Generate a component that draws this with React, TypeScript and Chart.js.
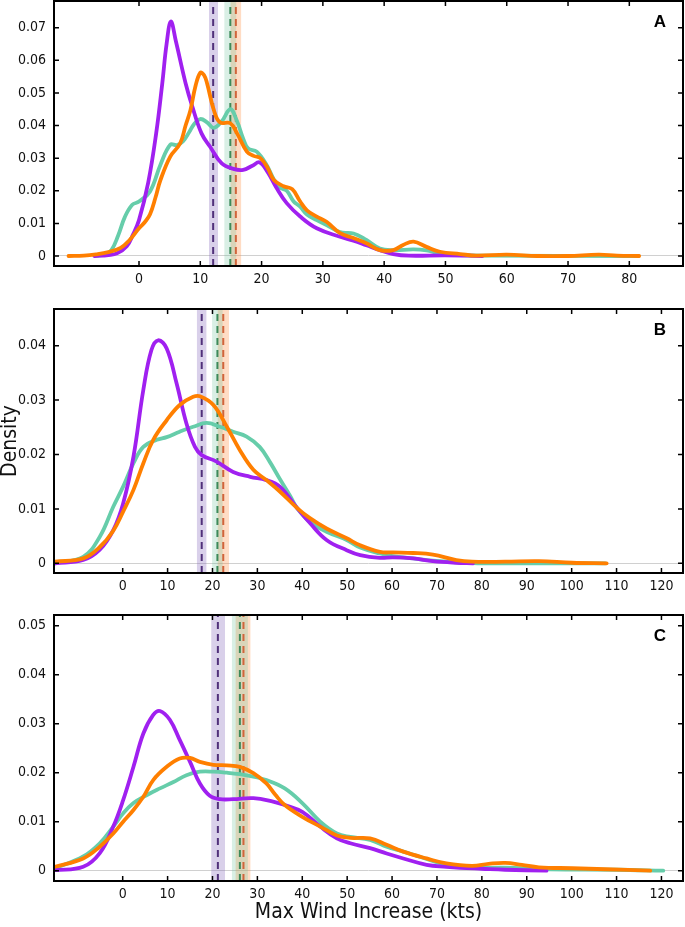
import React, { useEffect, useRef } from 'react';
import { Chart, registerables } from 'chart.js';

Chart.register(...registerables);

const TICK_FONT = '"Liberation Sans Narrow", "DejaVu Sans Condensed", "Arial Narrow", sans-serif';

// ---------- colours ----------
const PURPLE = '#A020F0';
const GREEN = '#66CDAA';
const ORANGE = '#FF7F00';

// ---------- Panel A ----------
const A_xTicks = [0, 10, 20, 30, 40, 50, 60, 70, 80];
const A_yTicks = [0, 0.01, 0.02, 0.03, 0.04, 0.05, 0.06, 0.07];
const A_purple: [number, number][] = [
  [-7.3, 0], [-5, 0.0003], [-3.6, 0.0008], [-2, 0.003], [-1, 0.0065], [0, 0.011], [1.5, 0.0225],
  [2.8, 0.0376], [3.8, 0.053], [4.5, 0.065], [5.2, 0.0719], [6.0, 0.066], [7.6, 0.053], [8.7, 0.0458],
  [10.2, 0.0376], [11.6, 0.0335], [13.5, 0.0284], [15.4, 0.0267], [17.0, 0.0264], [18.5, 0.0277],
  [19.7, 0.0287], [21.0, 0.0257], [22.4, 0.021], [24.1, 0.0162], [26.3, 0.0121], [29.0, 0.0085],
  [32.8, 0.0059], [35.0, 0.0047], [37.1, 0.0033], [39.3, 0.0018], [41.5, 0.0006], [44, 0.0001],
  [50, 0.0002], [56, 0],
];
const A_green: [number, number][] = [
  [-7, 0], [-5.5, 0.0005], [-4.5, 0.0018], [-3.4, 0.0063], [-2.3, 0.012], [-1.1, 0.0157], [0, 0.0167],
  [1.8, 0.0198], [3.5, 0.028], [5.1, 0.0341], [6.2, 0.034], [7.2, 0.0352], [8.2, 0.038], [9, 0.0405],
  [10.0, 0.042], [11.1, 0.041], [12.2, 0.0393], [13.5, 0.0413], [14.9, 0.045], [16, 0.0413],
  [17.0, 0.036], [17.8, 0.033], [19.2, 0.032], [20.8, 0.028], [22.0, 0.0235], [23.0, 0.021],
  [24.1, 0.020], [25.2, 0.0168], [26.3, 0.0151], [27.4, 0.0127], [29.0, 0.011], [30.6, 0.0095],
  [32.8, 0.0073], [35.0, 0.0069], [37.1, 0.0049], [39.3, 0.0023], [41.5, 0.0018], [44.8, 0.002],
  [46.9, 0.0017], [49.1, 0.0008], [52.4, 0.0003], [56, 0.0001], [81.5, 0],
];
const A_orange: [number, number][] = [
  [-11.5, 0], [-9, 0.0001], [-7, 0.0005], [-5, 0.0012], [-3, 0.0025], [-1.5, 0.005], [0, 0.0085],
  [1, 0.0105], [1.8, 0.0128], [2.7, 0.018], [3.5, 0.0233], [5.1, 0.0305], [6.7, 0.0345], [7.6, 0.040],
  [8.4, 0.0448], [9.2, 0.052], [10.0, 0.0562], [10.6, 0.0555], [11.1, 0.053], [12.2, 0.0448],
  [13.2, 0.041], [14.9, 0.0407], [16.0, 0.0376], [17.6, 0.032], [18.7, 0.0307], [19.8, 0.030],
  [21.0, 0.027], [22.0, 0.0233], [23.6, 0.0214], [25.0, 0.0205], [26.3, 0.0167], [27.4, 0.014],
  [29.0, 0.0121], [30.6, 0.0105], [32.8, 0.007], [35.0, 0.0055], [37.1, 0.0039], [39.3, 0.0018],
  [41.5, 0.0018], [43.1, 0.0034], [44.8, 0.0044], [46.9, 0.0028], [49.1, 0.0013], [52.4, 0.0006],
  [55, 0.0001], [60, 0.0004], [65, 0], [70, 0], [75, 0.0004], [78, 0.0001], [81.6, 0],
];
// order: purple, green, orange
const A_means = [12.1, 14.9, 15.8];
const A_lows = [11.4, 13.9, 14.9];
const A_highs = [12.9, 15.9, 16.7];

// ---------- Panel B ----------
const BC_xTicks = [0, 10, 20, 30, 40, 50, 60, 70, 80, 90, 100, 110, 120];
const B_yTicks = [0, 0.01, 0.02, 0.03, 0.04];
const B_purple: [number, number][] = [
  [-15.1, 0], [-8.8, 0.0006], [-5.1, 0.0025], [-2.1, 0.0061], [0.1, 0.011], [2.4, 0.0196],
  [4.6, 0.0319], [6.4, 0.0392], [7.9, 0.041], [9.8, 0.0395], [12.0, 0.0331], [14.2, 0.0257],
  [16.1, 0.0214], [17.6, 0.0199], [20.9, 0.0187], [24.6, 0.0168], [28.4, 0.0159], [32.0, 0.0153],
  [35.0, 0.0141], [38.8, 0.0102], [41.7, 0.0074], [45.4, 0.0043], [49.9, 0.0024], [52.9, 0.0015],
  [57.3, 0.001], [60.2, 0.0011], [64.7, 0.0009], [69.1, 0.0004], [74.3, 0.0001], [78, 0],
];
const B_green: [number, number][] = [
  [-15.1, 0], [-8.8, 0.0012], [-5.1, 0.0049], [-2.1, 0.0104], [0.1, 0.0141], [2.4, 0.0184],
  [4.6, 0.0214], [7.6, 0.0227], [9.8, 0.0232], [12.7, 0.0242], [15.7, 0.0251], [18.7, 0.0258],
  [21.7, 0.0251], [24.6, 0.0242], [27.6, 0.0233], [30.5, 0.0214], [32.8, 0.0186], [35.0, 0.0155],
  [37.3, 0.0124], [38.8, 0.0102], [41.7, 0.0076], [45.4, 0.0058], [49.9, 0.0043], [52.9, 0.0029],
  [57.3, 0.0018], [60.2, 0.0013], [64.7, 0.0009], [69.1, 0.0005], [74.3, 0.0002], [80, 0], [107.5, 0],
];
const B_orange: [number, number][] = [
  [-15.1, 0.0003], [-8.8, 0.0009], [-5.1, 0.003], [-2.1, 0.006], [0.1, 0.0095], [2.4, 0.0135],
  [4.6, 0.0184], [6.8, 0.0227], [9.8, 0.0263], [12.7, 0.0291], [15.7, 0.0306], [17.2, 0.0307],
  [20.2, 0.0291], [23.2, 0.0251], [26.1, 0.0208], [29.1, 0.0172], [32.0, 0.0153], [35.0, 0.0132],
  [38.8, 0.0102], [41.7, 0.0083], [45.4, 0.0064], [49.9, 0.0046], [52.9, 0.0033], [57.3, 0.0021],
  [60.2, 0.002], [64.7, 0.0019], [69.1, 0.0016], [74.3, 0.0006], [77.8, 0.0003], [85.2, 0.0003],
  [92.7, 0.0004], [100.1, 0.0001], [107.8, 0],
];
const B_means = [17.6, 21.1, 22.4];
const B_lows = [16.5, 19.9, 21.1];
const B_highs = [18.7, 22.3, 23.7];

// ---------- Panel C ----------
const C_yTicks = [0, 0.01, 0.02, 0.03, 0.04, 0.05];
const C_purple: [number, number][] = [
  [-15.1, 0.0001], [-8.8, 0.0008], [-5.1, 0.0036], [-2.1, 0.009], [0.1, 0.0144], [2.4, 0.0212],
  [4.6, 0.028], [6.8, 0.0318], [8.3, 0.0326], [10.5, 0.0308], [12.7, 0.0267], [15, 0.0222],
  [17.2, 0.0178], [19.4, 0.0153], [21.7, 0.0146], [24.6, 0.0146], [29.1, 0.0148], [33.5, 0.0141],
  [36.1, 0.0134], [40, 0.012], [44, 0.009], [47.7, 0.0066], [50.7, 0.0056], [55.1, 0.0046],
  [58.8, 0.0035], [62.5, 0.0025], [67.7, 0.0012], [72.1, 0.0008], [75.1, 0.0006], [80, 0.0004],
  [85.2, 0.0002], [94.4, 0],
];
const C_green: [number, number][] = [
  [-15.1, 0.0005], [-8.8, 0.0029], [-5.1, 0.0056], [-2.1, 0.009], [0.1, 0.0117], [2.4, 0.0138],
  [5.3, 0.0154], [8.3, 0.0168], [11.3, 0.0181], [14.2, 0.0195], [17.2, 0.0202], [20.2, 0.0202],
  [23.2, 0.02], [26.1, 0.0197], [29.1, 0.0192], [32.0, 0.0185], [36.1, 0.0168], [40, 0.0138],
  [44, 0.01], [47.7, 0.0076], [50.7, 0.0069], [55.1, 0.0063], [58.8, 0.0049], [62.5, 0.0039],
  [67.7, 0.0024], [72.1, 0.0012], [77.8, 0.0006], [85, 0.0006], [95, 0.0003], [110, 0.0002],
  [120.4, 0],
];
const C_orange: [number, number][] = [
  [-15.1, 0.0008], [-8.8, 0.0025], [-5.1, 0.0049], [-2.1, 0.0076], [0.1, 0.01], [2.4, 0.0124],
  [4.6, 0.0151], [6.8, 0.0185], [9.8, 0.0212], [12.7, 0.0229], [15, 0.023], [17.2, 0.0222],
  [20.2, 0.0216], [23.2, 0.0215], [26.1, 0.0212], [29.1, 0.0199], [32.0, 0.0178], [34, 0.0155],
  [36.1, 0.0134], [40, 0.011], [44, 0.009], [47.7, 0.0072], [50.7, 0.0067], [55.1, 0.0066],
  [58.8, 0.0053], [62.5, 0.0039], [67.7, 0.0025], [72.1, 0.0015], [77.8, 0.001], [81.5, 0.0014],
  [85.2, 0.0016], [88.9, 0.0012], [92.7, 0.0007], [100.1, 0.0005], [107.5, 0.0003], [117.5, 0],
];
const C_means = [21.2, 26.1, 26.9];
const C_lows = [19.7, 24.3, 25.1];
const C_highs = [22.8, 27.9, 28.5];

const BAND_COLORS = ['rgba(128,98,185,0.3)', 'rgba(102,190,150,0.25)', 'rgba(255,140,60,0.3)'];
const MEAN_COLORS = ['#50307a', '#3d8a5a', '#d0643a'];

interface PanelCfg {
  letter: string;
  top: number;
  height: number;
  padTop: number;
  xAxisH: number;
  xMin: number; xMax: number; yMin: number; yMax: number;
  xTicks: number[]; yTicks: number[];
  purple: [number, number][]; green: [number, number][]; orange: [number, number][];
  means: number[]; lows: number[]; highs: number[];
  yTitle?: string; xTitle?: string;
}

const PANELS: PanelCfg[] = [
  {
    letter: 'A', top: 0, height: 290, padTop: 1, xAxisH: 24,
    xMin: -13.87, xMax: 88.76, yMin: -0.00307, yMax: 0.0782,
    xTicks: A_xTicks, yTicks: A_yTicks,
    purple: A_purple, green: A_green, orange: A_orange,
    means: A_means, lows: A_lows, highs: A_highs,
  },
  {
    letter: 'B', top: 290, height: 310, padTop: 19, xAxisH: 27,
    xMin: -15.3, xMax: 124.8, yMin: -0.00178, yMax: 0.04675,
    xTicks: BC_xTicks, yTicks: B_yTicks,
    purple: B_purple, green: B_green, orange: B_orange,
    means: B_means, lows: B_lows, highs: B_highs,
    yTitle: 'Density',
  },
  {
    letter: 'C', top: 600, height: 327, padTop: 15, xAxisH: 46,
    xMin: -15.3, xMax: 124.8, yMin: -0.0021, yMax: 0.05218,
    xTicks: BC_xTicks, yTicks: C_yTicks,
    purple: C_purple, green: C_green, orange: C_orange,
    means: C_means, lows: C_lows, highs: C_highs,
    xTitle: 'Max Wind Increase (kts)',
  },
];

const toPts = (arr: [number, number][]) => arr.map(([x, y]) => ({ x, y }));

const framePlugin = {
  id: 'frame',
  afterDatasetsDraw(chart: any, _args: any, opts: any) {
    const { ctx, chartArea: a, scales } = chart;
    const xs = scales.x;
    const ys = scales.y;
    ctx.save();
    ctx.strokeStyle = '#000';
    ctx.lineWidth = 1.5;
    ctx.beginPath();
    xs.ticks.forEach((t: any) => {
      const p = xs.getPixelForValue(t.value);
      ctx.moveTo(p, a.bottom); ctx.lineTo(p, a.bottom - 5);
      ctx.moveTo(p, a.top); ctx.lineTo(p, a.top + 5);
    });
    ys.ticks.forEach((t: any) => {
      const p = ys.getPixelForValue(t.value);
      ctx.moveTo(a.left, p); ctx.lineTo(a.left + 5, p);
      ctx.moveTo(a.right, p); ctx.lineTo(a.right - 5, p);
    });
    ctx.stroke();
    ctx.lineWidth = 2;
    ctx.strokeRect(a.left, a.top, a.right - a.left, a.bottom - a.top);
    ctx.font = 'bold 17px "Liberation Sans", Arial, sans-serif';
    ctx.textAlign = 'right';
    ctx.textBaseline = 'alphabetic';
    ctx.fillStyle = '#000';
    ctx.fillText(opts.letter, a.right - 17, a.top + 26);
    ctx.restore();
  },
};

function Panel({ cfg }: { cfg: PanelCfg }) {
  const ref = useRef<HTMLCanvasElement | null>(null);
  useEffect(() => {
    if (!ref.current) return;
    const datasets: any[] = [];
    cfg.means.forEach((m, i) => {
      datasets.push({
        data: [{ x: cfg.lows[i], y: cfg.yMax }, { x: cfg.highs[i], y: cfg.yMax }],
        fill: 'start', backgroundColor: BAND_COLORS[i], borderWidth: 0, borderColor: 'rgba(0,0,0,0)',
        pointRadius: 0, order: 10, tension: 0,
      });
      datasets.push({
        data: [{ x: m, y: cfg.yMin }, { x: m, y: cfg.yMax }],
        borderColor: MEAN_COLORS[i], borderWidth: 2, borderDash: [7, 5], pointRadius: 0,
        fill: false, order: 5, tension: 0,
      });
    });
    const curve = (pts: [number, number][], color: string, order: number) => ({
      data: toPts(pts), borderColor: color, borderWidth: 3.8, pointRadius: 0, fill: false,
      tension: 0.4, borderCapStyle: 'round', borderJoinStyle: 'round', order,
    });
    datasets.push(curve(cfg.green, GREEN, 3));
    datasets.push(curve(cfg.purple, PURPLE, 2));
    datasets.push(curve(cfg.orange, ORANGE, 1));

    const chart = new Chart(ref.current, {
      type: 'line',
      data: { datasets },
      plugins: [framePlugin],
      options: {
        animation: false,
        responsive: false,
        maintainAspectRatio: false,
        layout: { padding: { top: cfg.padTop, left: 0, right: 2, bottom: 0 } },
        plugins: {
          legend: { display: false },
          tooltip: { enabled: false },
          frame: { letter: cfg.letter },
        } as any,
        scales: {
          x: {
            type: 'linear', min: cfg.xMin, max: cfg.xMax,
            afterBuildTicks: (s: any) => { s.ticks = cfg.xTicks.map((v) => ({ value: v })); },
            afterFit: (s: any) => { s.height = cfg.xAxisH; s.paddingLeft = 0; s.paddingRight = 0; },
            ticks: {
              autoSkip: false, maxRotation: 0, padding: 5, color: '#111',
              font: { family: TICK_FONT, size: 14 },
              callback: (v: any) => String(v),
            },
            grid: { display: false, drawTicks: false },
            border: { display: false },
            title: cfg.xTitle
              ? { display: true, text: cfg.xTitle, color: '#111', font: { family: TICK_FONT, size: 21, lineHeight: 1 }, padding: { top: 0, bottom: 3.5 } }
              : { display: false },
          },
          y: {
            type: 'linear', min: cfg.yMin, max: cfg.yMax,
            afterBuildTicks: (s: any) => { s.ticks = cfg.yTicks.map((v) => ({ value: v })); },
            afterFit: (s: any) => { s.width = 54; s.paddingTop = 0; s.paddingBottom = 0; },
            ticks: {
              padding: 8, color: '#111',
              font: { family: TICK_FONT, size: 14 },
              callback: (v: any) => (v === 0 ? '0' : Number(v).toFixed(2)),
            },
            grid: {
              drawTicks: false,
              color: (c: any) => (c.tick && c.tick.value === 0 ? '#d0d0d0' : 'rgba(0,0,0,0)'),
              lineWidth: 1,
            },
            border: { display: false },
            title: cfg.yTitle
              ? { display: true, text: cfg.yTitle, color: '#111', font: { family: TICK_FONT, size: 21, lineHeight: 1 }, padding: 0 }
              : { display: false },
          },
        },
      } as any,
    });
    return () => chart.destroy();
  }, [cfg]);
  return (
    <div style={{ position: 'absolute', left: 0, top: cfg.top, width: 685, height: cfg.height }}>
      <canvas ref={ref} width={685} height={cfg.height} style={{ display: 'block', width: 685, height: cfg.height }} />
    </div>
  );
}

export default function App() {
  return (
    <div style={{ position: 'absolute', left: 0, top: 0, width: 685, height: 927, background: '#fff' }}>
      {PANELS.map((p) => (
        <Panel key={p.letter} cfg={p} />
      ))}
    </div>
  );
}
